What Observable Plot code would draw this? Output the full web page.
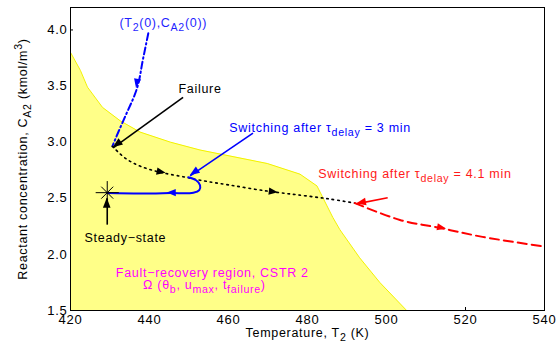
<!DOCTYPE html>
<html><head><meta charset="utf-8">
<script src="https://cdn.jsdelivr.net/npm/d3@7"></script>
<script src="https://cdn.jsdelivr.net/npm/@observablehq/plot@0.6"></script>
<style>body{margin:0;background:#fff} svg text{letter-spacing:0.7px}</style>
</head><body><div id="chart"></div>
<script>
// ---- data ----
const xTicks = [420, 440, 460, 480, 500, 520, 540];
const yTicks = [1.5, 2.0, 2.5, 3.0, 3.5, 4.0];

// boundary of the fault-recovery region
const regionT = [420, 422.5, 424.3, 428.1, 432.6, 437.6, 445.3, 452.8, 469.8, 478.1, 482.4, 486.4, 488.2, 493.2, 498.3, 505.1];
const regionC = [3.80, 3.64, 3.49, 3.31, 3.19, 3.09, 3.00, 2.93, 2.81, 2.715, 2.61, 2.33, 2.22, 1.97, 1.75, 1.5];

// initial condition -> failure (dash-dot blue)
const initT = [439.7, 438.3, 436.9, 433.6, 432.6, 430.6];
const initC = [3.97, 3.73, 3.487, 3.21, 3.13, 2.963];

// open-loop after failure (dotted black)
const failT = [430.6, 433.9, 437.7, 442.7, 449.1, 452.8, 460.4, 469.8, 478.1, 485.7, 492.0];
const failC = [2.963, 2.856, 2.785, 2.732, 2.688, 2.661, 2.617, 2.564, 2.528, 2.493, 2.457];

// switching after 3 min (solid blue)
const sw3T = [449.8, 451.8, 452.8, 452.6, 451.1, 445.3, 437.7, 429.3];
const sw3C = [2.688, 2.661, 2.617, 2.573, 2.55, 2.546, 2.542, 2.546];

// switching after 4.1 min (dashed red)
const sw41T = [492.0, 503.4, 513.5, 524.3, 540];
const sw41C = [2.457, 2.307, 2.236, 2.156, 2.07];

const steadyT = [429.3];
const steadyC = [2.55];

// annotation texts and their anchor points
const labelTexts = ["(T_{2}(0),C_{A2}(0))", "Failure", "Switching after τ_{delay} = 3 min",
  "Switching after τ_{delay} = 4.1 min", "Steady−state", "Fault−recovery region, CSTR 2",
  "Ω (θ_{b}, u_{max}, t_{failure})"];
const labelT = [443.5, 452.8, 460.2, 482.7, 433.9, 455.9, 453.9];
const labelC = [4.06, 3.47, 3.13, 2.72, 2.15, 1.835, 1.725];

// annotation pointer arrows
const pointerFromT = [448.5, 466.2, 500.3, 429.3];
const pointerFromC = [3.40, 3.08, 2.505, 2.265];
const pointerToT = [430.8, 450.3, 492.4, 429.3];
const pointerToC = [2.95, 2.70, 2.45, 2.50];

// flow-direction heads on the trajectories (tip, and a point behind it)
const flowTipT = [436.7, 444.2, 472.6, 444.5, 515.2];
const flowTipC = [3.48, 2.722, 2.55, 2.546, 2.227];
const flowFromT = [437.6, 440.5, 468.0, 449.0, 510.0];
const flowFromC = [3.65, 2.748, 2.57, 2.547, 2.26];

// ---- helpers ----
const pts = (T, C) => T.map((t, i) => ({T: t, C: C[i]}));
const font = "'Liberation Sans', Arial, Helvetica, sans-serif";

function heads(idx, tipT, tipC, fromT, fromC, color, L = 9, W = 3.6) {
  return (index, scales) => {
    const g = d3.create("svg:g").attr("fill", color);
    for (const i of idx) {
      const x2 = scales.x(tipT[i]), y2 = scales.y(tipC[i]);
      const x1 = scales.x(fromT[i]), y1 = scales.y(fromC[i]);
      const a = Math.atan2(y2 - y1, x2 - x1);
      const bx = x2 - L * Math.cos(a), by = y2 - L * Math.sin(a);
      const px = -Math.sin(a) * W, py = Math.cos(a) * W;
      g.append("path").attr("d", `M${x2},${y2}L${bx + px},${by + py}L${bx - px},${by - py}Z`);
    }
    return g.node();
  };
}

function richify(root) {
  root.querySelectorAll("text").forEach(t => {
    const targets = t.querySelectorAll("tspan").length ? [...t.querySelectorAll("tspan")] : [t];
    targets.forEach(el => {
      const s = el.textContent;
      if (!/[_^]\{/.test(s)) return;
      el.textContent = "";
      const re = /([_^])\{([^}]*)\}/g;
      let last = 0, m, shift = 0;
      const add = (str, dy, small) => {
        if (!str) return;
        const sp = document.createElementNS("http://www.w3.org/2000/svg", "tspan");
        sp.textContent = str;
        if (dy) sp.setAttribute("dy", dy);
        if (small) sp.setAttribute("font-size", "0.85em");
        el.appendChild(sp);
      };
      while ((m = re.exec(s))) {
        add(s.slice(last, m.index), shift ? -shift : 0, false);
        shift = 0;
        const d = m[1] === "_" ? 4 : -5;
        add(m[2], d, true);
        shift = d;
        last = re.lastIndex;
      }
      add(s.slice(last), shift ? -shift : 0, false);
    });
  });
}

const colors = ["#1f1fff", "black", "#0000ff", "#ff1a1a", "black", "#ff00ff", "#ff00ff"];
const anchors = ["middle", "middle", "start", "start", "middle", "middle", "middle"];

const pointerIdx = [0, 1, 2, 3];
const pointerColors = ["black", "#0000ff", "#ff0000", "black"];

const chart = Plot.plot({
  width: 557,
  height: 349,
  marginLeft: 70,
  marginRight: 13,
  marginTop: 7,
  marginBottom: 39,
  style: {fontFamily: font, fontSize: "12px", background: "white", color: "black"},
  x: {domain: [420, 540]},
  y: {domain: [1.5, 4.2]},
  marks: [
    Plot.axisX(xTicks, {anchor: "bottom", tickSize: -3, tickPadding: 7, fontSize: 13, label: null, tickFormat: d => String(d)}),
    Plot.axisY(yTicks, {anchor: "left", tickSize: -3, tickPadding: 6, fontSize: 13, label: null, tickFormat: d3.format(".1f")}),
    Plot.areaY(pts(regionT, regionC), {x: "T", y1: 1.5, y2: "C", fill: "#ffff88"}),
    Plot.line(pts(regionT, regionC), {x: "T", y: "C", stroke: "#f2f200", strokeWidth: 1}),
    Plot.frame({stroke: "black", strokeWidth: 1}),
    // trajectories
    Plot.line(pts(initT, initC), {x: "T", y: "C", stroke: "#0000ff", strokeWidth: 2, strokeDasharray: "7,3,1.5,3", curve: "monotone-y"}),
    Plot.line(pts(failT, failC), {x: "T", y: "C", stroke: "black", strokeWidth: 1.6, strokeDasharray: "1.6,4", curve: "catmull-rom"}),
    Plot.line(pts(sw3T, sw3C), {x: "T", y: "C", stroke: "#0000ff", strokeWidth: 2, curve: "catmull-rom"}),
    Plot.line(pts(sw41T, sw41C), {x: "T", y: "C", stroke: "#ff0000", strokeWidth: 2, strokeDasharray: "9,5", curve: "catmull-rom"}),
    heads([0], flowTipT, flowTipC, flowFromT, flowFromC, "#0000ff"),
    heads([1, 2], flowTipT, flowTipC, flowFromT, flowFromC, "black"),
    heads([3], flowTipT, flowTipC, flowFromT, flowFromC, "#0000ff"),
    heads([4], flowTipT, flowTipC, flowFromT, flowFromC, "#ff0000"),
    // steady state marker
    Plot.dot(pts(steadyT, steadyC), {x: "T", y: "C", symbol: "plus", r: 7.5, stroke: "black", strokeWidth: 1}),
    Plot.dot(pts(steadyT, steadyC), {x: "T", y: "C", symbol: "times", r: 5.5, stroke: "black", strokeWidth: 1}),
    // pointer arrows
    ...pointerIdx.map(i => Plot.link([i], {
      x1: d => pointerFromT[d], y1: d => pointerFromC[d], x2: d => pointerToT[d], y2: d => pointerToC[d],
      stroke: pointerColors[i], strokeWidth: 1.6
    })),
    ...pointerIdx.map(i => heads([i], pointerToT, pointerToC, pointerFromT, pointerFromC, pointerColors[i], 10, 3.8)),
    // labels
    ...labelTexts.map((s, i) => Plot.text([s], {
      x: () => labelT[i], y: () => labelC[i], text: d => d, fill: colors[i],
      textAnchor: anchors[i], fontSize: 12.5
    })),
    // axis titles
    Plot.text(["Temperature, T_{2} (K)"], {text: d => d, frameAnchor: "bottom", dy: 26, fontSize: 12.5, fill: "black"}),
    Plot.text(["Reactant concentration, C_{A2} (kmol/m^{3})"], {text: d => d, frameAnchor: "left", dx: -48, rotate: -90, textAnchor: "middle", fontSize: 12.5, fill: "black"})
  ]
});
richify(chart);
document.getElementById("chart").appendChild(chart);
</script>
</body></html>
